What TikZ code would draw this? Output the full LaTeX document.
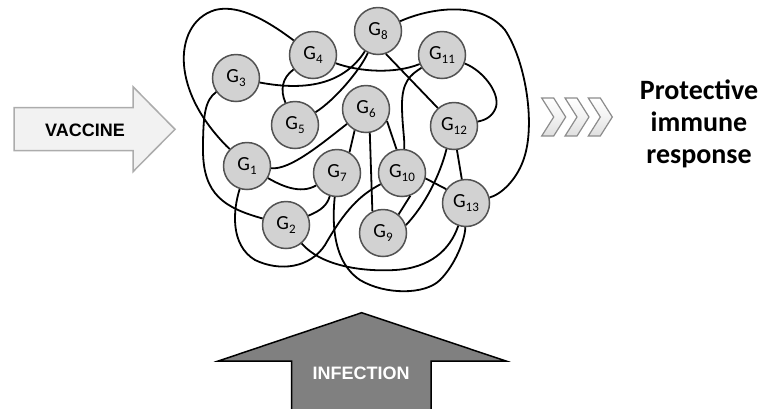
\documentclass[tikz,border=0pt]{standalone}
\usepackage{fontspec}
\setmainfont{Carlito}
\newfontfamily\arialfont{Liberation Sans}
\newcommand{\gl}[1]{G\raisebox{-4pt}{\fontsize{13}{13}\selectfont #1}}
\begin{document}
\begin{tikzpicture}[x=1pt,y=-1pt]
\useasboundingbox (0,0) rectangle (770,408);
\tikzset{
  gene/.style={circle, minimum size=47pt, inner sep=0pt, fill=gray!35, draw=black!68, line width=1.5pt, font=\fontsize{20}{20}\selectfont},
  link/.style={line width=1.8pt, black},
  chev/.style={top color=white, bottom color=gray!25, middle color=gray!10, draw=black!45, line width=1.2pt},
}
% arrows
\draw[fill=gray!10, draw=gray!65, line width=1.5pt]
  (14,107.7) -- (133,107.7) -- (133,86.7) -- (175,129.3) -- (133,171.7) -- (133,150.7) -- (14,150.7) -- cycle;
\node[font=\arialfont\bfseries\fontsize{18}{18}\selectfont] (vac) at (85,130) {VACCINE};
\draw[fill=gray, draw=black, line width=1.5pt]
  (291.7,412) -- (291.7,361) -- (218.3,361) -- (361.7,312.7) -- (506,361) -- (431,361) -- (431,412);
\node[font=\arialfont\bfseries\fontsize{18}{18}\selectfont, text=white] (inf) at (361,373) {INFECTION};
\foreach \x in {541.7,565,588.3}{
  \draw[chev] (\x,98) -- (\x+12,98) -- (\x+24,117) -- (\x+12,136) -- (\x,136) -- (\x+12,117) -- cycle;
}
\node[align=center, font=\bfseries\fontsize{28}{32}\selectfont] (resp) at (699,124) {Protective\\immune\\response};
% genes
\node[gene] (G1) at (247,166) {\gl{1}};
\node[gene] (G2) at (286,225) {\gl{2}};
\node[gene] (G3) at (236,78) {\gl{3}};
\node[gene] (G4) at (313,55) {\gl{4}};
\node[gene] (G5) at (295,125) {\gl{5}};
\node[gene] (G6) at (366,109) {\gl{6}};
\node[gene] (G7) at (337,173) {\gl{7}};
\node[gene] (G8) at (378,31) {\gl{8}};
\node[gene] (G9) at (383,233) {\gl{9}};
\node[gene] (G10) at (402,173) {\gl{10}};
\node[gene] (G11) at (442,55) {\gl{11}};
\node[gene] (G12) at (454,126) {\gl{12}};
\node[gene] (G13) at (466,203) {\gl{13}};
% links
\draw[link] (G4) .. controls (260,15) and (235,5) .. (215,10) .. controls (192,17) and (182,40) .. (184,65) .. controls (187,100) and (210,130) .. (G1);
\draw[link] (G3) .. controls (310,92) and (345,82) .. (G8);
\draw[link] (G4) .. controls (360,72) and (395,74) .. (G11);
\draw[link] (G8) .. controls (360,70) and (335,100) .. (G5);
\draw[link] (G8.-71) -- (G12.132);
\draw[link] (G8) .. controls (430,8) and (480,0) .. (505,30) .. controls (525,60) and (535,120) .. (525,155) .. controls (518,180) and (500,195) .. (G13);
\draw[link] (G11) .. controls (482,70) and (500,92) .. (496,107) .. controls (493,116) and (486,120) .. (G12);
\draw[link] (G11) .. controls (410,75) and (402,82) .. (402,105) .. controls (402,125) and (405,140) .. (G10);
\draw[link] (G5) .. controls (280,90) and (282,78) .. (G4);
\draw[link] (G3) .. controls (205,100) and (203,115) .. (203,150) .. controls (203,195) and (225,208) .. (G2);
\draw[link] (G1) .. controls (290,170) and (320,145) .. (G6);
\draw[link] (G1) .. controls (280,185) and (300,195) .. (G7);
\draw[link] (G1) .. controls (233,210) and (230,245) .. (255,260) .. controls (280,272) and (310,268) .. (325,245) .. controls (345,210) and (360,195) .. (G10);
\draw[link] (G7) .. controls (327,205) and (322,210) .. (G2);
\draw[link] (G2) .. controls (320,265) and (360,272) .. (395,270) .. controls (430,268) and (450,250) .. (G13);
\draw[link] (G7) .. controls (333,215) and (330,260) .. (360,280) .. controls (385,295) and (425,295) .. (440,280) .. controls (455,265) and (465,240) .. (G13);
\draw[link] (G6.-118) -- (G7.59);
\draw[link] (G6.-81) -- (G9.116);
\draw[link] (G6.-30) -- (G10.103);
\draw[link] (G10.-70) -- (G9.50);
\draw[link] (G12.-108) .. controls (440,175) and (425,205) .. (G9.19);
\draw[link] (G12.-83) -- (G13.100);
\draw[link] (G10.-13) -- (G13.145);
\end{tikzpicture}
\end{document}
